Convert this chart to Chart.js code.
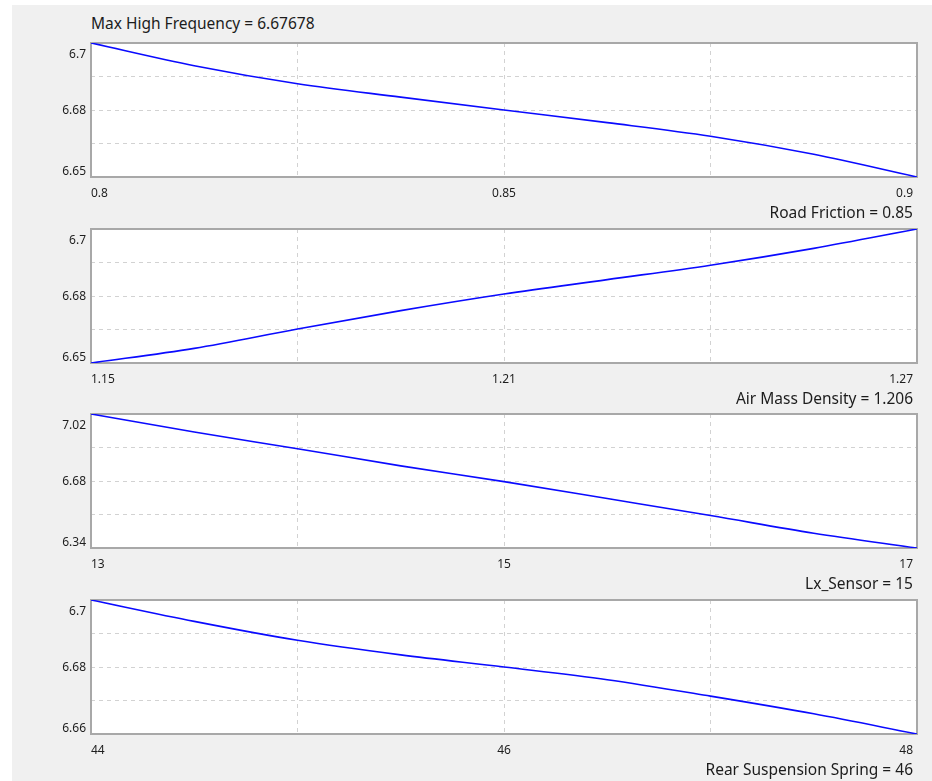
<!DOCTYPE html>
<html>
<head>
<meta charset="utf-8">
<title>Max High Frequency sensitivity</title>
<script src="https://cdn.jsdelivr.net/npm/chart.js@4.4.0/dist/chart.umd.min.js"></script>
<style>
  html, body { margin: 0; padding: 0; background: #fff; }
  #frame { position: relative; width: 932px; height: 781px; overflow: hidden; background: #fff; }
  #panel { position: absolute; left: 12px; top: 5px; right: 0; bottom: 0; background: #f0f0f0; }
  #frame canvas { position: absolute; left: 0; }
  .lbl { position: absolute; font: 15.5px "Noto Sans", sans-serif; line-height: 20px; color: #1c1c1c; white-space: nowrap; }
</style>
</head>
<body>
<div id="frame">
  <div id="panel"></div>
</div>
<script>
document.addEventListener('DOMContentLoaded', function() {
    // Output and parameter names
    const outputName = 'Max High Frequency';
    const outputValue = '6.67678';
    const paramNames = ['Road Friction', 'Air Mass Density', 'Lx_Sensor', 'Rear Suspension Spring'];
    const paramValues = ['0.85', '1.206', '15', '46'];

    // Sweep of each parameter and the resulting frequency
    const frictionX = [0.8, 0.8125, 0.825, 0.8375, 0.85, 0.8625, 0.875, 0.8875, 0.9];
    const frictionFreq = [6.7039, 6.6947, 6.6874, 6.6820, 6.6768, 6.6717, 6.6662, 6.6589, 6.6497];

    const densityX = [1.146, 1.161, 1.176, 1.191, 1.206, 1.221, 1.236, 1.251, 1.266];
    const densityFreq = [6.6490, 6.6549, 6.6627, 6.6701, 6.6768, 6.6826, 6.6884, 6.6952, 6.7030];

    const sensorX = [13, 13.5, 14, 14.5, 15, 15.5, 16, 16.5, 17];
    const sensorFreq = [7.0235, 6.9308, 6.8456, 6.7576, 6.6768, 6.5900, 6.5028, 6.4121, 6.3365];

    const springX = [44, 44.5, 45, 45.5, 46, 46.5, 47, 47.5, 48];
    const springFreq = [6.6984, 6.6915, 6.6854, 6.6807, 6.6768, 6.6727, 6.6674, 6.6617, 6.6552];

    // Tick labels (min, mid, max) per panel
    const xTickLabels = [['0.8', '0.85', '0.9'], ['1.15', '1.21', '1.27'], ['13', '15', '17'], ['44', '46', '48']];
    const yTickLabels = [['6.65', '6.68', '6.7'], ['6.65', '6.68', '6.7'], ['6.34', '6.68', '7.02'], ['6.66', '6.68', '6.7']];

    const sweeps = [
        [frictionX, frictionFreq],
        [densityX, densityFreq],
        [sensorX, sensorFreq],
        [springX, springFreq]
    ];

    // Layout
    const W = 932;
    const plotLeft = 91, plotRight = 917, plotHeight = 134;
    const plotTops = [43, 229, 414, 600];
    const padTop = 8, padBottom = 30;
    const font = '"Noto Sans", sans-serif';

    const frame = document.getElementById('frame');

    // Title above the first plot
    const title = document.createElement('div');
    title.className = 'lbl';
    title.style.left = plotLeft + 'px';
    title.style.top = (plotTops[0] - 30) + 'px';
    title.textContent = outputName + ' = ' + outputValue;
    frame.appendChild(title);

    // Five evenly spaced ticks for the dashed grid
    function quarterTicks(scale) {
        const step = (scale.max - scale.min) / 4;
        scale.ticks = [0, 1, 2, 3, 4].map(k => ({ value: scale.min + k * step }));
    }

    function gridColor(ctx) {
        return (ctx.index === 0 || ctx.index === 4) ? 'rgba(0,0,0,0)' : '#d2d2d2';
    }

    // White plot background, grey frame and the min/mid/max tick labels
    const panelPlugin = {
        id: 'panelFrame',
        beforeDraw(chart) {
            const { ctx, chartArea: a } = chart;
            ctx.save();
            ctx.fillStyle = '#ffffff';
            ctx.fillRect(a.left, a.top, a.right - a.left, a.bottom - a.top);
            ctx.restore();
        },
        beforeDatasetsDraw(chart) {
            const { ctx, chartArea: a } = chart;
            ctx.save();
            ctx.strokeStyle = '#a8a8a8';
            ctx.lineWidth = 2;
            ctx.strokeRect(a.left, a.top, a.right - a.left, a.bottom - a.top);
            ctx.restore();
        },
        afterDraw(chart, args, opts) {
            const { ctx, chartArea: a, scales: { x, y } } = chart;
            ctx.save();
            ctx.font = '12px ' + font;
            ctx.fillStyle = '#1e1e1e';
            ctx.textBaseline = 'middle';

            const xVals = [x.min, (x.min + x.max) / 2, x.max];
            const xAlign = ['left', 'center', 'right'];
            const xShift = [0, 0, -4];
            xVals.forEach((v, k) => {
                ctx.textAlign = xAlign[k];
                ctx.fillText(opts.xLabels[k], x.getPixelForValue(v) + xShift[k], a.bottom + 17);
            });

            const yVals = [y.min, (y.min + y.max) / 2, y.max];
            const yShift = [-5, 1, 12];
            ctx.textAlign = 'right';
            yVals.forEach((v, k) => {
                ctx.fillText(opts.yLabels[k], a.left - 5, y.getPixelForValue(v) + yShift[k]);
            });
            ctx.restore();
        }
    };

    sweeps.forEach(([xs, ys], i) => {
        const canvas = document.createElement('canvas');
        const h = padTop + plotHeight + padBottom;
        canvas.width = W;
        canvas.height = h;
        canvas.style.top = (plotTops[i] - padTop) + 'px';
        frame.appendChild(canvas);

        new Chart(canvas.getContext('2d'), {
            type: 'line',
            data: {
                datasets: [{
                    data: xs.map((v, k) => ({ x: v, y: ys[k] })),
                    borderColor: '#0a0aff',
                    borderWidth: 1.6,
                    pointRadius: 0,
                    cubicInterpolationMode: 'monotone',
                    fill: false
                }]
            },
            options: {
                responsive: false,
                animation: false,
                events: [],
                layout: { padding: { left: plotLeft, right: W - plotRight, top: padTop, bottom: padBottom } },
                plugins: {
                    legend: { display: false },
                    tooltip: { enabled: false },
                    panelFrame: { xLabels: xTickLabels[i], yLabels: yTickLabels[i] }
                },
                scales: {
                    x: {
                        type: 'linear',
                        min: xs[0],
                        max: xs[xs.length - 1],
                        afterBuildTicks: quarterTicks,
                        afterFit: s => { s.height = 0; },
                        ticks: { display: false },
                        grid: { color: gridColor, drawTicks: false, lineWidth: 1 },
                        border: { display: false, dash: [4, 4] }
                    },
                    y: {
                        type: 'linear',
                        min: Math.min(...ys),
                        max: Math.max(...ys),
                        afterBuildTicks: quarterTicks,
                        afterFit: s => { s.width = 0; },
                        ticks: { display: false },
                        grid: { color: gridColor, drawTicks: false, lineWidth: 1 },
                        border: { display: false, dash: [4, 4] }
                    }
                }
            },
            plugins: [panelPlugin]
        });

        // Parameter name under the plot, right aligned
        const name = document.createElement('div');
        name.className = 'lbl';
        name.style.right = (W - 913) + 'px';
        name.style.top = (plotTops[i] + plotHeight + 25) + 'px';
        name.textContent = paramNames[i] + ' = ' + paramValues[i];
        frame.appendChild(name);
    });
});
</script>
</body>
</html>
